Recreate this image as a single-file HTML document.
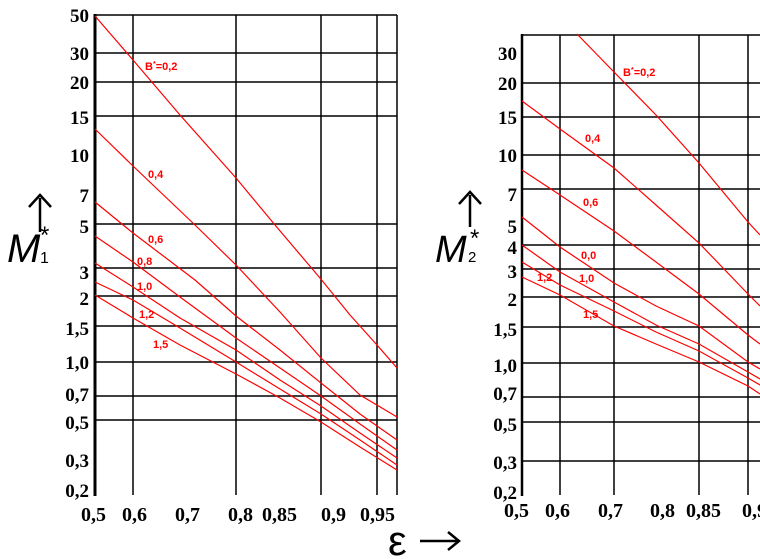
<!DOCTYPE html>
<html><head><meta charset="utf-8"><style>
html,body{margin:0;padding:0;background:#fff;}
svg{display:block;}
.t{font-family:"Liberation Serif",serif;font-weight:bold;font-size:19px;fill:#000;}
.x{font-family:"Liberation Serif",serif;font-weight:bold;font-size:20px;fill:#000;}
.r{font-family:"Liberation Sans",sans-serif;font-weight:bold;font-size:11px;fill:#f00;}
.c{fill:none;stroke:#f00;stroke-width:1.2;}
.g{stroke:#000;stroke-width:1.5;}
</style></head><body>
<svg width="760" height="559" viewBox="0 0 760 559" xmlns="http://www.w3.org/2000/svg">
<!-- LEFT CHART -->
<g class="g">
<line x1="95" y1="15" x2="397" y2="15"/>
<line x1="95" y1="53" x2="397" y2="53"/>
<line x1="95" y1="82" x2="397" y2="82"/>
<line x1="95" y1="116" x2="397" y2="116"/>
<line x1="95" y1="224" x2="397" y2="224"/>
<line x1="95" y1="268" x2="397" y2="268"/>
<line x1="95" y1="296" x2="397" y2="296"/>
<line x1="95" y1="326" x2="397" y2="326"/>
<line x1="95" y1="362" x2="397" y2="362"/>
<line x1="95" y1="396" x2="397" y2="396"/>
<line x1="95" y1="420" x2="397" y2="420"/>
<line x1="133" y1="15" x2="133" y2="495"/>
<line x1="236" y1="15" x2="236" y2="495"/>
<line x1="321" y1="15" x2="321" y2="495"/>
<line x1="377" y1="15" x2="377" y2="495"/>
<line x1="397" y1="15" x2="397" y2="495"/>
</g>
<line x1="95" y1="14" x2="95" y2="496" stroke="#000" stroke-width="3"/>
<g class="c">
<polyline points="95,16 133,60 180,115 236,178 275,225 320,278 350,315 377,345 397,368"/>
<polyline points="95,129 133,166 195,225 236,265 280,312 321,358 360,395 397,417"/>
<polyline points="95,202 133,233 195,280 236,316 280,350 321,383 360,414 397,440"/>
<polyline points="95,236 133,262 180,297 236,338 280,368 321,396 360,424 397,450"/>
<polyline points="95,263 133,287 180,318 236,350 280,380 321,406 360,433 397,458"/>
<polyline points="95,282 133,300 180,328 236,362 280,389 321,414 360,440 397,465"/>
<polyline points="95,295 133,318 180,345 236,374 280,398 321,422 360,447 397,470"/>
</g>
<text class="r" x="145" y="70">B<tspan dy="-4" font-size="7">*</tspan><tspan dy="4">=0,2</tspan></text>
<text class="r" x="148" y="178">0,4</text>
<text class="r" x="148" y="243">0,6</text>
<text class="r" x="137" y="265">0,8</text>
<text class="r" x="137" y="290">1,0</text>
<text class="r" x="139" y="318">1,2</text>
<text class="r" x="153" y="348">1,5</text>
<g class="t" text-anchor="end">
<text x="89" y="22">50</text>
<text x="89" y="60">30</text>
<text x="89" y="89">20</text>
<text x="89" y="124">15</text>
<text x="89" y="162">10</text>
<text x="89" y="202">7</text>
<text x="89" y="233">5</text>
<text x="89" y="279">3</text>
<text x="89" y="305">2</text>
<text x="89" y="335">1,5</text>
<text x="89" y="369">1,0</text>
<text x="89" y="401">0,7</text>
<text x="89" y="429">0,5</text>
<text x="89" y="467">0,3</text>
<text x="89" y="497">0,2</text>
</g>
<g class="x">
<text x="81" y="521">0,5</text>
<text x="122" y="521">0,6</text>
<text x="175" y="521">0,7</text>
<text x="228" y="521">0,8</text>
<text x="262" y="521">0,85</text>
<text x="321" y="521">0,9</text>
<text x="360" y="521">0,95</text>
</g>
<line x1="40" y1="232" x2="40" y2="198" stroke="#000" stroke-width="2.5"/>
<polyline points="29,207 40,195 51,207" fill="none" stroke="#000" stroke-width="2.5"/>
<text x="7" y="262" font-family="Liberation Sans,sans-serif" font-style="italic" font-size="40" fill="#000">M</text>
<text x="40" y="263" font-family="Liberation Sans,sans-serif" font-size="16" fill="#000">1</text>
<text x="40" y="243" font-family="Liberation Sans,sans-serif" font-size="24" fill="#000">*</text>
<!-- epsilon -->
<text x="388" y="555" font-family="Liberation Sans,sans-serif" font-size="42" fill="#000">ε</text>
<line x1="420" y1="541" x2="458" y2="541" stroke="#000" stroke-width="2.5"/>
<polyline points="448,532 459,541 448,550" fill="none" stroke="#000" stroke-width="2.5"/>
<!-- RIGHT CHART -->
<g class="g">
<line x1="522" y1="35" x2="760" y2="35"/>
<line x1="522" y1="83" x2="760" y2="83"/>
<line x1="522" y1="117" x2="760" y2="117"/>
<line x1="522" y1="155" x2="760" y2="155"/>
<line x1="522" y1="189" x2="760" y2="189"/>
<line x1="522" y1="245" x2="760" y2="245"/>
<line x1="522" y1="269" x2="760" y2="269"/>
<line x1="522" y1="297" x2="760" y2="297"/>
<line x1="522" y1="327" x2="760" y2="327"/>
<line x1="522" y1="363" x2="760" y2="363"/>
<line x1="522" y1="397" x2="760" y2="397"/>
<line x1="522" y1="422" x2="760" y2="422"/>
<line x1="522" y1="461" x2="760" y2="461"/>
<line x1="560" y1="35" x2="560" y2="495"/>
<line x1="614" y1="35" x2="614" y2="495"/>
<line x1="699" y1="35" x2="699" y2="495"/>
<line x1="748" y1="35" x2="748" y2="495"/>
</g>
<line x1="522" y1="34" x2="522" y2="496" stroke="#000" stroke-width="2.5"/>
<g class="c">
<polyline points="577,34 614,72 656,115 699,163 748,222 760,235"/>
<polyline points="522,101 560,129 614,168 656,205 699,243 748,294 760,306"/>
<polyline points="522,170 560,195 614,231 656,262 699,294 748,335 760,344"/>
<polyline points="522,217 560,247 614,283 656,306 699,326 748,362 760,369"/>
<polyline points="522,245 560,272 614,302 656,325 699,344 748,372 760,379"/>
<polyline points="522,262 560,285 614,311 656,332 699,351 748,378 760,385"/>
<polyline points="522,277 560,295 614,326 656,344 699,362 748,386 760,394"/>
</g>
<text class="r" x="623" y="76">B<tspan dy="-4" font-size="7">*</tspan><tspan dy="4">=0,2</tspan></text>
<text class="r" x="585" y="142">0,4</text>
<text class="r" x="583" y="206">0,6</text>
<text class="r" x="581" y="259">0,0</text>
<text class="r" x="579" y="282">1,0</text>
<text class="r" x="537" y="281">1,2</text>
<text class="r" x="583" y="318">1,5</text>
<g class="t" text-anchor="end">
<text x="517" y="60">30</text>
<text x="517" y="90">20</text>
<text x="517" y="124">15</text>
<text x="517" y="162">10</text>
<text x="517" y="201">7</text>
<text x="517" y="233">5</text>
<text x="517" y="254">4</text>
<text x="517" y="278">3</text>
<text x="517" y="306">2</text>
<text x="517" y="336">1,5</text>
<text x="517" y="372">1,0</text>
<text x="517" y="400">0,7</text>
<text x="517" y="431">0,5</text>
<text x="517" y="469">0,3</text>
<text x="517" y="499">0,2</text>
</g>
<g class="x">
<text x="504" y="517">0,5</text>
<text x="545" y="517">0,6</text>
<text x="598" y="517">0,7</text>
<text x="650" y="517">0,8</text>
<text x="686" y="517">0,85</text>
<text x="742" y="517">0,9</text>
</g>
<line x1="470" y1="227" x2="470" y2="195" stroke="#000" stroke-width="2.5"/>
<polyline points="459,204 470,192 481,204" fill="none" stroke="#000" stroke-width="2.5"/>
<text x="435" y="262" font-family="Liberation Sans,sans-serif" font-style="italic" font-size="38" fill="#000">M</text>
<text x="468" y="262" font-family="Liberation Sans,sans-serif" font-size="15" fill="#000">2</text>
<text x="470" y="246" font-family="Liberation Sans,sans-serif" font-size="24" fill="#000">*</text>
</svg>
</body></html>
